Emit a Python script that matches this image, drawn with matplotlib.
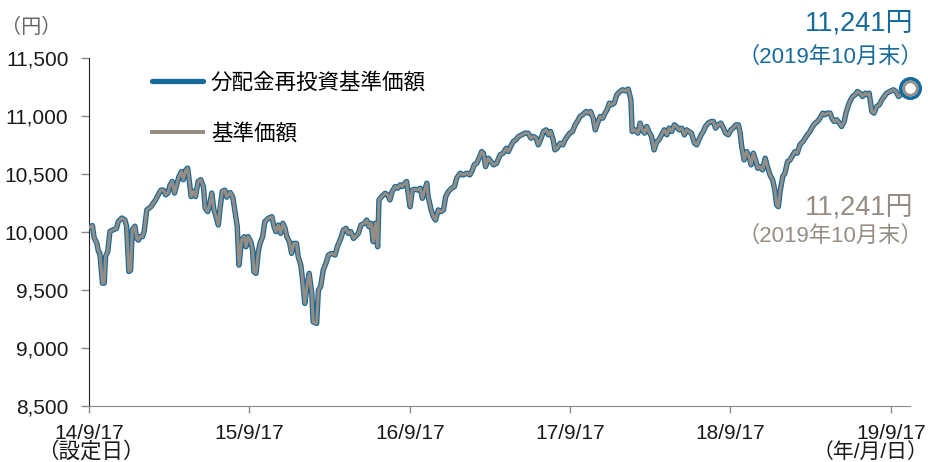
import pandas as pd
import matplotlib
matplotlib.use("Agg")
import matplotlib.pyplot as plt
from matplotlib.lines import Line2D

plt.rcParams["font.family"] = ["Liberation Sans", "Noto Sans CJK JP", "DejaVu Sans"]

BLUE = "#176a9c"
GRAY = "#958d83"
TEXT = "#1a1a1a"

START = pd.Timestamp("2014-09-17")
END = pd.Timestamp("2019-10-31")

# days since inception (設定日) and NAV in yen
days = [
    0, 7, 11, 17, 21, 24, 30, 34, 37, 42, 47, 55, 62, 66, 74, 81, 85, 90, 94, 98,
    104, 108, 112, 115, 121, 125, 131, 136, 141, 146, 151, 157, 163, 169, 174, 179,
    184, 189, 194, 199, 204, 210, 214, 220, 224, 227, 232, 237, 242, 248, 254, 260,
    264, 270, 275, 279, 284, 289, 294, 298, 303, 309,
    313, 321, 327, 332, 337, 341, 347, 353, 357, 362, 368, 372, 375, 380, 385, 389,
    395, 400, 408, 416, 421, 425, 431, 436, 441, 446, 450, 456, 461, 466, 472, 476,
    482, 486, 491, 497, 501, 507, 510, 518, 522, 527, 533, 539, 545, 552, 560, 565,
    573, 579, 585, 590, 596, 602,
    613, 619, 627, 632, 637, 642, 647, 652, 657, 660, 666, 674, 680, 685, 690, 697,
    703, 708, 713, 719, 723, 727, 731, 736, 742, 748, 754, 759, 763, 769, 772, 779,
    784, 789, 795, 801, 807, 812, 818, 826, 832, 837, 845, 852, 860, 867, 873, 877,
    883, 888, 894, 898, 903, 909,
    921, 928, 936, 943, 950, 955, 960, 966, 972, 978, 985, 993, 1000, 1006, 1012,
    1018, 1023, 1028, 1035, 1041, 1046, 1051, 1057, 1061, 1066, 1073, 1079, 1084,
    1089, 1095, 1101, 1107, 1112, 1118, 1124, 1132, 1137, 1142, 1148, 1153, 1158,
    1164, 1170, 1175, 1180, 1185, 1190, 1196, 1202, 1209, 1215,
    1221, 1228, 1234, 1237, 1243, 1250, 1255, 1260, 1265, 1270, 1275, 1281, 1287,
    1293, 1298, 1304, 1310, 1316, 1321, 1327, 1333, 1338, 1344, 1350, 1356, 1361,
    1366, 1372, 1379, 1384, 1389, 1394, 1399, 1404, 1410, 1417, 1422, 1427, 1433,
    1439, 1445, 1450, 1456, 1462, 1467, 1473, 1479, 1483, 1486, 1492, 1498, 1503,
    1508, 1513, 1518, 1523,
    1528, 1534, 1540, 1545, 1551, 1557, 1562, 1566, 1570, 1574, 1580, 1585, 1591,
    1597, 1603, 1608, 1613, 1619, 1626, 1631, 1636, 1642, 1648, 1654, 1659, 1665,
    1671, 1676, 1682, 1688, 1692, 1697, 1703, 1709, 1714, 1720, 1724, 1730, 1733,
    1739, 1745, 1750, 1756, 1762, 1768, 1773, 1777, 1783, 1788, 1794, 1800, 1806,
    1811, 1817, 1824, 1832, 1838, 1844, 1849, 1855, 1862, 1870,
]

nav = [
    10040, 10055, 9950, 9905, 9830, 9820, 9560, 9560, 9790, 9830, 10005, 10020,
    10030, 10090, 10120, 10105, 10050, 9660, 9670, 10020, 10050, 9945, 9930, 9960,
    9960, 10005, 10190, 10205, 10220, 10250, 10275, 10320, 10360, 10360, 10320,
    10335, 10405, 10435, 10335, 10405, 10475, 10520, 10450, 10535, 10550, 10465,
    10305, 10350, 10305, 10435, 10450, 10390, 10205, 10175, 10250, 10335, 10190,
    10130, 10060, 10205, 10350, 10360,
    10300, 10340, 10300, 10175, 10050, 9715, 9931, 9960, 9873, 9960, 9916, 9845,
    9658, 9644, 9830, 9902, 9960, 10089, 10118, 10132, 10046, 10003, 10060, 9988,
    10075, 10032, 9960, 9916, 9816, 9902, 9902, 9787, 9715, 9586, 9385, 9558, 9644,
    9472, 9227, 9213, 9500, 9528, 9672, 9730, 9802, 9816, 9802, 9873, 9945, 10017,
    10032, 9988, 10003, 9945,
    9988, 10060, 10075, 10103, 10046, 10075, 9916, 10075, 9873, 10276, 10304, 10333,
    10319, 10276, 10348, 10391, 10377, 10405, 10391, 10420, 10434, 10319, 10218,
    10362, 10368, 10362, 10377, 10290, 10348, 10420, 10304, 10190, 10132, 10103,
    10190, 10175, 10190, 10304, 10348, 10377, 10391, 10463, 10506, 10491, 10506,
    10491, 10534, 10578, 10592, 10635, 10692, 10678, 10563, 10635,
    10578, 10592, 10664, 10678, 10721, 10692, 10736, 10779, 10793, 10822, 10836,
    10851, 10851, 10808, 10822, 10808, 10750, 10793, 10865, 10879, 10836, 10865,
    10793, 10707, 10721, 10764, 10750, 10793, 10822, 10851, 10865, 10922, 10951,
    10994, 11009, 11037, 11023, 11037, 10980, 10879, 10937, 10994, 10980, 11023,
    11052, 11109, 11095, 11109, 11181, 11209, 11224,
    11215, 11230, 11138, 10865, 10879, 10851, 10937, 10879, 10851, 10908, 10865,
    10822, 10707, 10779, 10793, 10836, 10879, 10836, 10894, 10865, 10922, 10908,
    10879, 10894, 10836, 10879, 10865, 10851, 10764, 10750, 10793, 10836, 10865,
    10908, 10937, 10951, 10951, 10894, 10922, 10937, 10894, 10851, 10836, 10879,
    10894, 10922, 10922, 10851, 10750, 10621, 10692, 10649, 10578, 10678, 10621,
    10549,
    10563, 10534, 10635, 10563, 10491, 10448, 10362, 10233, 10218, 10348, 10477,
    10506, 10606, 10621, 10664, 10692, 10678, 10750, 10779, 10808, 10836, 10865,
    10908, 10937, 10951, 10980, 11023, 11009, 11023, 11023, 10980, 10951, 10966,
    10937, 10908, 10951, 11023, 11095, 11123, 11166, 11181, 11209, 11195, 11166,
    11195, 11181, 11195, 11037, 11023, 11080, 11095, 11138, 11166, 11195, 11209,
    11224, 11209, 11166, 11181, 11209, 11238, 11241,
]

# no distributions paid, so the reinvested series coincides with the NAV
nav_reinvested = list(nav)

yticks = [8500, 9000, 9500, 10000, 10500, 11000, 11500]
ytick_labels = ["8,500", "9,000", "9,500", "10,000", "10,500", "11,000", "11,500"]
xtick_dates = ["2014-09-17", "2015-09-17", "2016-09-17", "2017-09-17", "2018-09-17", "2019-09-17"]
xtick_labels = ["14/9/17", "15/9/17", "16/9/17", "17/9/17", "18/9/17", "19/9/17"]

legend_labels = ["分配金再投資基準価額", "基準価額"]
last_value = "11,241円"
last_date = "（2019年10月末）"

dates = START + pd.to_timedelta(days, unit="D")

W, H = 929, 462
fig = plt.figure(figsize=(W / 100, H / 100), dpi=100)
ax = fig.add_axes([89.3 / W, 1 - 406.3 / H, (910 - 89.3) / W, (406.3 - 57.7) / H])

ax.plot(dates, nav_reinvested, color=BLUE, lw=3.9, solid_joinstyle="round", zorder=3)
ax.plot(dates, nav, color=GRAY, lw=2.2, solid_joinstyle="round", zorder=4)

# end-of-period marker
ax.plot(dates[-1], nav_reinvested[-1], "o", ms=14, mfc="white", mec=BLUE, mew=2.6,
        clip_on=False, zorder=5)
ax.plot(dates[-1], nav[-1], "o", ms=9.5, mfc="white", mec=GRAY, mew=1.8,
        clip_on=False, zorder=6)

ax.set_xlim(START, END)
ax.set_ylim(8500, 11500)

ax.set_yticks(yticks)
ax.set_yticklabels(ytick_labels)
ax.set_xticks(pd.to_datetime(xtick_dates))
ax.set_xticklabels(xtick_labels)

for s in ["top", "right"]:
    ax.spines[s].set_visible(False)
ax.spines["left"].set_color("#222222")
ax.spines["bottom"].set_color("#8c8c8c")
ax.tick_params(axis="y", length=6, width=1, color="#8c8c8c", pad=9,
               labelsize=15, labelcolor=TEXT)
ax.tick_params(axis="x", length=5, width=1, color="#8c8c8c", pad=8,
               labelsize=15, labelcolor=TEXT)

# legend
handles = [Line2D([], [], color=BLUE, lw=3.8, solid_capstyle="round"),
           Line2D([], [], color=GRAY, lw=2.9)]
ax.legend(handles, legend_labels, loc="upper left", bbox_to_anchor=(0.076, 0.958),
          frameon=False, fontsize=15.5, handlelength=2.4, handletextpad=0.35,
          labelspacing=1.4, borderpad=0, borderaxespad=0)

# texts around the plot
fig.text(31 / W, 1 - 27 / H, "（円）", ha="center", va="center", fontsize=14.5, color="#666666")
fig.text(91 / W, 1 - 452 / H, "（設定日）", ha="center", va="center", fontsize=15.5, color=TEXT)
fig.text(928 / W, 1 - 452 / H, "（年/月/日）", ha="right", va="center", fontsize=15, color=TEXT)

fig.text(914 / W, 1 - 23 / H, last_value, ha="right", va="center", fontsize=19.5, color=BLUE)
fig.text(923 / W, 1 - 57 / H, last_date, ha="right", va="center", fontsize=16, color=BLUE)
fig.text(914 / W, 1 - 207 / H, last_value, ha="right", va="center", fontsize=19.5, color=GRAY)
fig.text(923 / W, 1 - 236 / H, last_date, ha="right", va="center", fontsize=16, color=GRAY)

fig.savefig("out.png", dpi=100)
